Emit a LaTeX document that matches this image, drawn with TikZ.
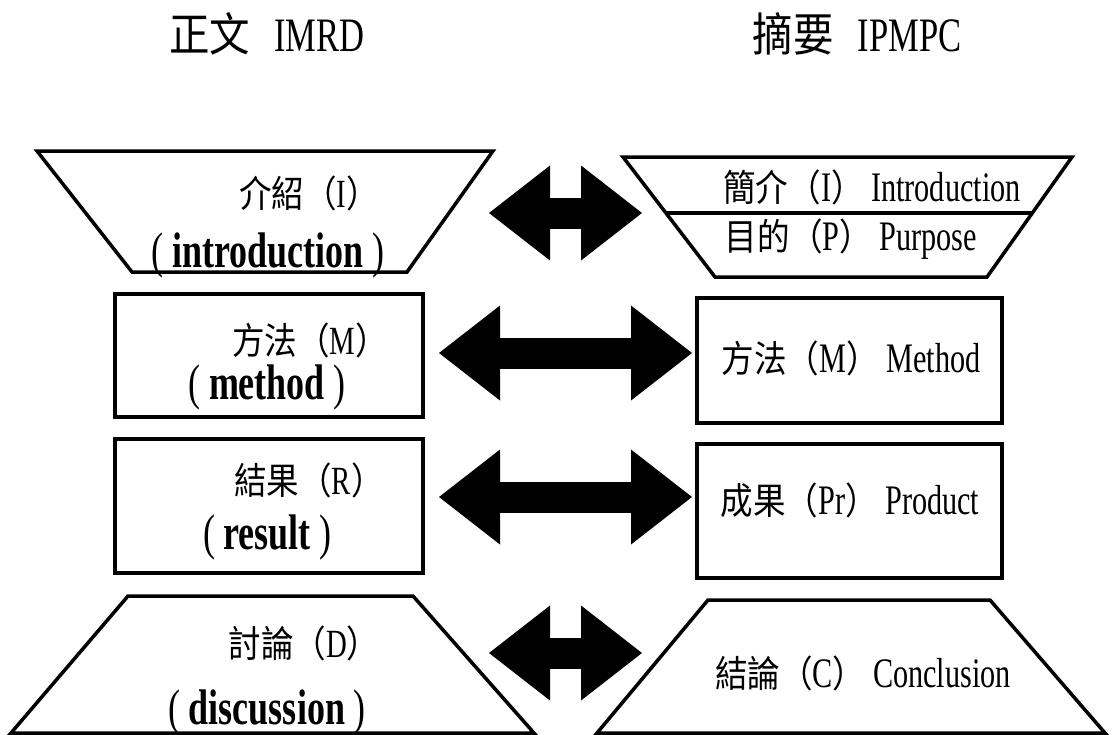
\documentclass[tikz,border=0pt]{standalone}
\usepackage{fontspec}
\setmainfont{Liberation Serif}[FakeStretch=0.72]
\newfontfamily\cjk{Noto Sans CJK TC}[FakeStretch=0.88]
\usetikzlibrary{arrows.meta,calc}
\usetikzlibrary{positioning}
\newcommand{\zhsz}{33}
\newcommand{\zh}[1]{{\cjk\fontsize{\zhsz}{\zhsz}\selectfont #1}}
\tikzset{
  outline/.style={line width=3.5pt, line join=miter},
  twoway/.style={line width=31pt,
    {Triangle[length=61pt,width=95pt,line width=0pt]}-{Triangle[length=61pt,width=95pt,line width=0pt]}},
  headtext/.style={font={\renewcommand{\zhsz}{46}\fontsize{48}{54}\selectfont}, inner sep=0pt},
  zhlabel/.style={font={\renewcommand{\zhsz}{37}\fontsize{40}{46}\selectfont}, inner sep=0pt},
  enlabel/.style={font=\fontsize{50}{56}\selectfont, inner sep=0pt},
  rlabel/.style={font={\renewcommand{\zhsz}{37}\fontsize{42}{48}\selectfont}, inner sep=0pt},
}

\begin{document}
\begin{tikzpicture}[x=1pt,y=-1pt]
  \useasboundingbox (0,0) rectangle (1113,734);
  % titles
  \node[headtext] (imrd) at (267,34) {\zh{正文}\hspace{24pt}IMRD};
  \node[headtext] (ipmpc) at (857,34) {\zh{摘要}\hspace{24pt}IPMPC};

  % left column
  \draw[outline] (37,151) -- (493,151) -- (407,272) -- (132,272) -- cycle;
  \draw[outline] (115,294) rectangle (423,417);
  \draw[outline] (115,439) rectangle (423,573);
  \draw[outline] (128,596) -- (413,596) -- (534,733) -- (11,733) -- cycle;
  \node[zhlabel] (intro) at (309,193) {\zh{介紹（}I\zh{）}};
  \node[enlabel] (introen) at (268,255) {(\,\textbf{introduction}\,)};
  \node[zhlabel] (meth) at (310,340) {\zh{方法（}M\zh{）}};
  \node[enlabel] (methen) at (267,387) {(\,\textbf{method}\,)};
  \node[zhlabel] (res) at (309,480) {\zh{結果（}R\zh{）}};
  \node[enlabel] (resen) at (267,537) {(\,\textbf{result}\,)};
  \node[zhlabel] (disc) at (304,643) {\zh{討論（}D\zh{）}};
  \node[enlabel] (discen) at (267,712) {(\,\textbf{discussion}\,)};

  % right column
  \coordinate (ta) at (623,157);
  \coordinate (tb) at (1072,157);
  \coordinate (tc) at (987,277);
  \coordinate (td) at (715,277);
  \draw[outline] (ta) -- (tb) -- (tc) -- (td) -- cycle;
  \draw[outline] ($(ta)!.467!(td)$) -- ($(tb)!.467!(tc)$);
  \draw[outline] (697,298) rectangle (1002,423);
  \draw[outline] (697,444) rectangle (1002,578);
  \draw[outline] (708,600) -- (990,600) -- (1105,733) -- (597,733) -- cycle;
  \node[rlabel] (rintro) at (872,187) {\zh{簡介（}I\zh{）} Introduction};
  \node[rlabel] (rpurp) at (851,239) {\zh{目的（}P\zh{）} Purpose};
  \node[rlabel] (rmeth) at (851,358) {\zh{方法（}M\zh{）} Method};
  \node[rlabel] (rprod) at (850,500) {\zh{成果（}Pr\zh{）} Product};
  \node[rlabel] (rconc) at (863,673) {\zh{結論（}C\zh{）} Conclusion};

  % arrows
  \coordinate (a1l) at (489,213);  \coordinate (a1r) at (642,213);
  \coordinate (a2l) at (439,353);  \coordinate (a2r) at (692,353);
  \coordinate (a3l) at (439,497);  \coordinate (a3r) at (692,497);
  \coordinate (a4l) at (489,653);  \coordinate (a4r) at (642,653);
  \draw[twoway] (a1l) -- (a1r);
  \draw[twoway] (a2l) -- (a2r);
  \draw[twoway] (a3l) -- (a3r);
  \draw[twoway] (a4l) -- (a4r);
\end{tikzpicture}
\end{document}
